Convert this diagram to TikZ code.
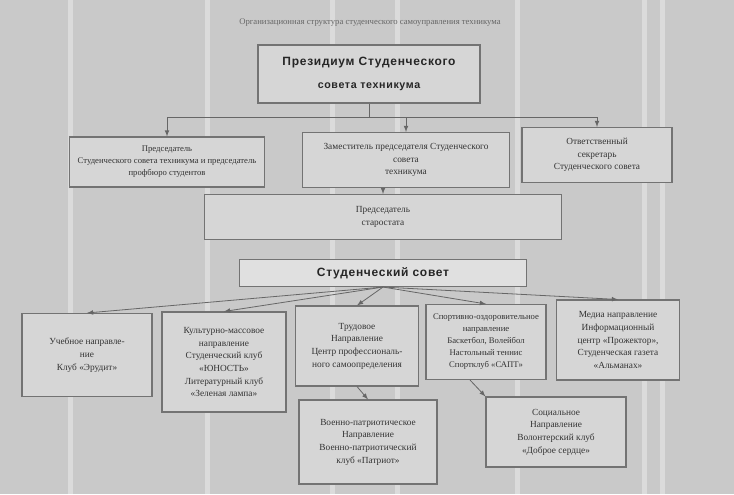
\documentclass[tikz,border=0pt]{standalone}
\usepackage{fontspec}
\setmainfont{Liberation Serif}
\newfontfamily\hdrfont[LetterSpace=6]{Liberation Sans}
\usetikzlibrary{arrows,positioning}

\begin{document}
\begin{tikzpicture}[x=0.75pt,y=-0.75pt,
  box/.style={draw=black!55,line width=0.8pt,fill=black!16,text=black!80,align=center,
    font=\fontsize{7}{9.5}\selectfont,inner sep=1pt},
  hdr/.style={box,font=\hdrfont\bfseries\fontsize{9}{17}\selectfont,text=black!85},
  sz/.style 2 args={minimum width=#1*0.75pt,minimum height=#2*0.75pt},
  link/.style={draw=black!60,line width=0.6pt,-latex}]
 \useasboundingbox (0,0) rectangle (734,494);
 \fill[black!21] (0,0) rectangle (734,494);
 % scan streaks
 \foreach \sx in {68,205,330,395,515,642,660}
   \fill[white,opacity=0.35] (\sx,0) rectangle ++(5,494);

 \node[text=black!60,font=\fontsize{6.5}{8}\selectfont] (title) at (370,23)
   {Организационная структура студенческого самоуправления техникума};

 % presidium level
 \node[hdr,sz={222}{58}] (pres) at (369,74)
   {Президиум Студенческого\\{\fontsize{8}{10}\selectfont совета техникума}};
 \node[box,sz={195}{50},font=\fontsize{6.5}{9}\selectfont] (chair) at (167,162)
   {Председатель\\Студенческого совета техникума и председатель\\профбюро студентов};
 \node[box,sz={207}{55}] (deputy) at (406,160)
   {Заместитель председателя Студенческого\\совета\\техникума};
 \node[box,sz={150}{55}] (secr) at (597,155)
   {Ответственный\\секретарь\\Студенческого совета};
 \node[box,sz={357}{45}] (elders) at (383,217)
   {Председатель\\старостата};
 \node[hdr,sz={287}{27},fill=black!12] (council) at (383,273)
   {Студенческий совет};

 % directions
 \node[box,sz={130}{83}] (study) at (87,355)
   {Учебное направле-\\ние\\Клуб «Эрудит»};
 \node[box,sz={124}{100}] (culture) at (224,362)
   {Культурно-массовое\\направление\\Студенческий клуб\\«ЮНОСТЬ»\\Литературный клуб\\«Зеленая лампа»};
 \node[box,sz={123}{80}] (labour) at (357,346)
   {Трудовое\\Направление\\Центр профессиональ-\\ного самоопределения};
 \node[box,sz={120}{75},font=\fontsize{6.5}{9}\selectfont] (sport) at (486,342)
   {Спортивно-оздоровительное\\направление\\Баскетбол, Волейбол\\Настольный теннис\\Спортклуб «САПТ»};
 \node[box,sz={123}{80}] (media) at (618,340)
   {Медиа направление\\Информационный\\центр «Прожектор»,\\Студенческая газета\\«Альманах»};
 \node[box,sz={138}{84}] (military) at (368,442)
   {Военно-патриотическое\\Направление\\Военно-патриотический\\клуб «Патриот»};
 \node[box,sz={140}{70}] (social) at (556,432)
   {Социальное\\Направление\\Волонтерский клуб\\«Доброе сердце»};

 % connectors
 \coordinate (barL) at (167,117);
 \coordinate (barR) at (597,117);
 \draw[link,-] (pres.south) -- (pres.south |- barL);
 \draw[link,-] (barL) -- (barR);
 \draw[link] (barL) -- (chair.north);
 \draw[link] (barR) -- (secr.north);
 \draw[link] (deputy.north |- barL) -- (deputy.north);
 \draw[link] (deputy.south -| elders.north) -- (elders.north);
 \foreach \d in {study,culture,labour,sport,media}
   \draw[link] (council.south) -- (\d.north);
 \draw[link] (labour.south) -- (military.north);
 \draw[link] ([xshift=-12pt]sport.south) -- (social.north west);
\end{tikzpicture}
\end{document}
